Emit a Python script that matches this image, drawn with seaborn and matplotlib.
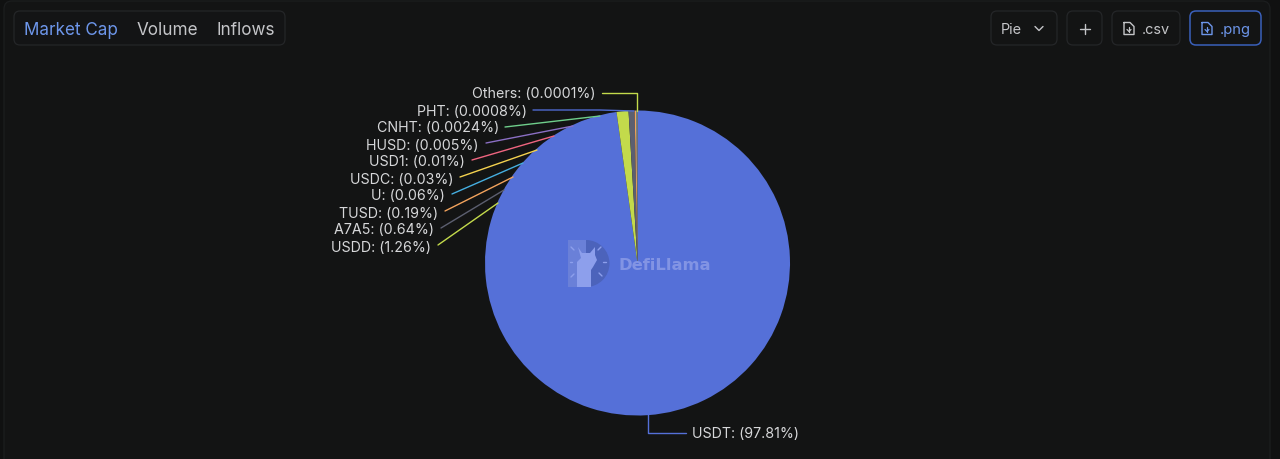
import matplotlib
matplotlib.use("Agg")
import matplotlib.pyplot as plt
import seaborn as sns
from matplotlib.patches import FancyBboxPatch, Wedge, Rectangle, Polygon

# stablecoin market cap share, clockwise from the top
names = ["USDT", "USDD", "A7A5", "TUSD", "U", "USDC", "USD1", "HUSD", "CNHT", "PHT", "Others"]
shares = [97.81, 1.26, 0.64, 0.19, 0.06, 0.03, 0.01, 0.005, 0.0024, 0.0008, 0.0001]
colors = ["#5570d8", "#c3da4b", "#5c5f70", "#f2a25c", "#45aee0", "#f4d24f",
          "#ef6580", "#8b6fc4", "#6fce8b", "#4f6ad0", "#c3da4b"]
tabs = ["Market Cap", "Volume", "Inflows"]

bg = "#131414"
border = "#242628"
text_col = "#d6d7d9"
blue = "#6d96ea"

sns.set_theme(style="dark")
plt.rcParams["font.family"] = ["Inter", "DejaVu Sans"]

fig = plt.figure(figsize=(12.8, 4.59), dpi=100, facecolor="#101111")
ax = fig.add_axes([0, 0, 1, 1])
ax.set_facecolor("#101111")

# pie, y axis is flipped so counterclock reads clockwise on screen
ax.pie(shares, colors=colors, center=(637.5, 263), radius=152.5, startangle=-90,
       counterclock=True, frame=True, wedgeprops={"linewidth": 0})
ax.set_xlim(0, 1280)
ax.set_ylim(459, 0)
ax.set_xticks([])
ax.set_yticks([])
for s in ax.spines.values():
    s.set_visible(False)


def box(x0, y0, x1, y1, ec=border, fc="none", r=6, lw=0.9, z=1):
    ax.add_patch(FancyBboxPatch((x0, y0), x1 - x0, y1 - y0, boxstyle=f"round,pad=0,rounding_size={r}",
                                ec=ec, fc=fc, lw=lw, zorder=z))


def line(xs, ys, c, lw=1.0, z=3):
    ax.plot(xs, ys, color=c, lw=lw, zorder=z, solid_capstyle="round", solid_joinstyle="round")


# panel behind everything
box(4, 1, 1270, 480, ec="#1c1e1f", fc=bg, r=8, z=0)

# leader lines and labels
leaders = {
    "Others": ([602, 637, 637], [93, 93, 111]),
    "PHT": ([533, 600, 634], [110, 110, 111]),
    "CNHT": ([505, 600], [127, 116]),
    "HUSD": ([486, 573], [143, 126]),
    "USD1": ([472, 554], [160, 136]),
    "USDC": ([460, 537], [177, 150]),
    "U": ([452, 523], [194, 163]),
    "TUSD": ([445, 513], [211, 177]),
    "A7A5": ([441, 504], [228, 190]),
    "USDD": ([438, 498], [245, 203]),
    "USDT": ([648, 648, 686], [414, 433, 433]),
}
label_x = {"Others": 595, "PHT": 527, "CNHT": 499, "HUSD": 479, "USD1": 465, "USDC": 453,
           "U": 445, "TUSD": 438, "A7A5": 434, "USDD": 431, "USDT": 692}
label_y = {"Others": 93, "PHT": 110, "CNHT": 127, "HUSD": 144, "USD1": 161, "USDC": 178,
           "U": 195, "TUSD": 212, "A7A5": 229, "USDD": 246, "USDT": 433}
for n, v, c in zip(names, shares, colors):
    line(leaders[n][0], leaders[n][1], c)
    ax.text(label_x[n], label_y[n], f"{n}: ({v}%)", color=text_col, fontsize=10.25,
            ha="left" if n == "USDT" else "right", va="center_baseline", zorder=4)

# tabs top left
box(14, 11, 285, 45, fc="#131415")
for t, x, c in zip(tabs, [24, 137, 217], [blue, "#c4c5c8", "#c4c5c8"]):
    ax.text(x, 28.5, t, color=c, fontsize=12.3, ha="left", va="center_baseline", zorder=4)

# buttons top right
box(991, 11, 1057, 45)
ax.text(1001, 28.5, "Pie", color="#c4c5c8", fontsize=10.4, va="center_baseline", zorder=4)
line([1035, 1039, 1043], [26.5, 30.5, 26.5], "#c4c5c8", lw=1.0)

box(1067, 11, 1102, 45)
line([1080, 1090], [28.5, 28.5], "#c4c5c8", lw=1.0)
line([1085, 1085], [23.5, 33.5], "#c4c5c8", lw=1.0)


def file_icon(x, c):
    line([x, x + 6, x + 10, x + 10, x, x], [22.5, 22.5, 26.5, 34.5, 34.5, 22.5], c, lw=1.0)
    line([x + 5, x + 5], [26.5, 31.5], c, lw=0.9)
    line([x + 3, x + 5, x + 7], [29.5, 31.5, 29.5], c, lw=0.9)


box(1112, 11, 1180, 45)
file_icon(1124, "#c4c5c8")
ax.text(1142, 28.5, ".csv", color="#c4c5c8", fontsize=10.4, va="center_baseline", zorder=4)
box(1190, 11, 1261, 45, ec="#3a60bb", lw=1.1)
file_icon(1202, blue)
ax.text(1220, 28.5, ".png", color=blue, fontsize=10.6, va="center_baseline", zorder=4)

# watermark
ax.add_patch(Wedge((586, 263.5), 23.5, -90, 90, fc="#4c63bb", ec="none", zorder=5))
ax.add_patch(Rectangle((568, 240), 18, 47, fc="#6a80d8", ec="none", zorder=5))
ax.add_patch(Polygon([(578, 247), (582, 253), (590, 253), (595, 247), (595, 255), (597, 260),
                      (593, 267), (591, 270), (591, 287), (577, 287), (577, 262), (581, 258)],
                     fc="#8d9fec", ec="none", zorder=6))
for x0, y0, x1, y1 in [(598, 250, 601, 247), (603, 262, 606, 262), (599, 273, 602, 276),
                       (574, 250, 571, 247), (572, 262, 570, 262), (574, 274, 571, 277)]:
    line([x0, x1], [y0, y1], "#8d9fec", lw=1.0, z=6)
ax.text(618, 264, "DefiLlama", color="#8294e4", fontsize=11.8, fontweight="bold",
        family="DejaVu Sans", ha="left", va="center_baseline", zorder=6)

fig.savefig("out.png", dpi=100, facecolor=fig.get_facecolor())
